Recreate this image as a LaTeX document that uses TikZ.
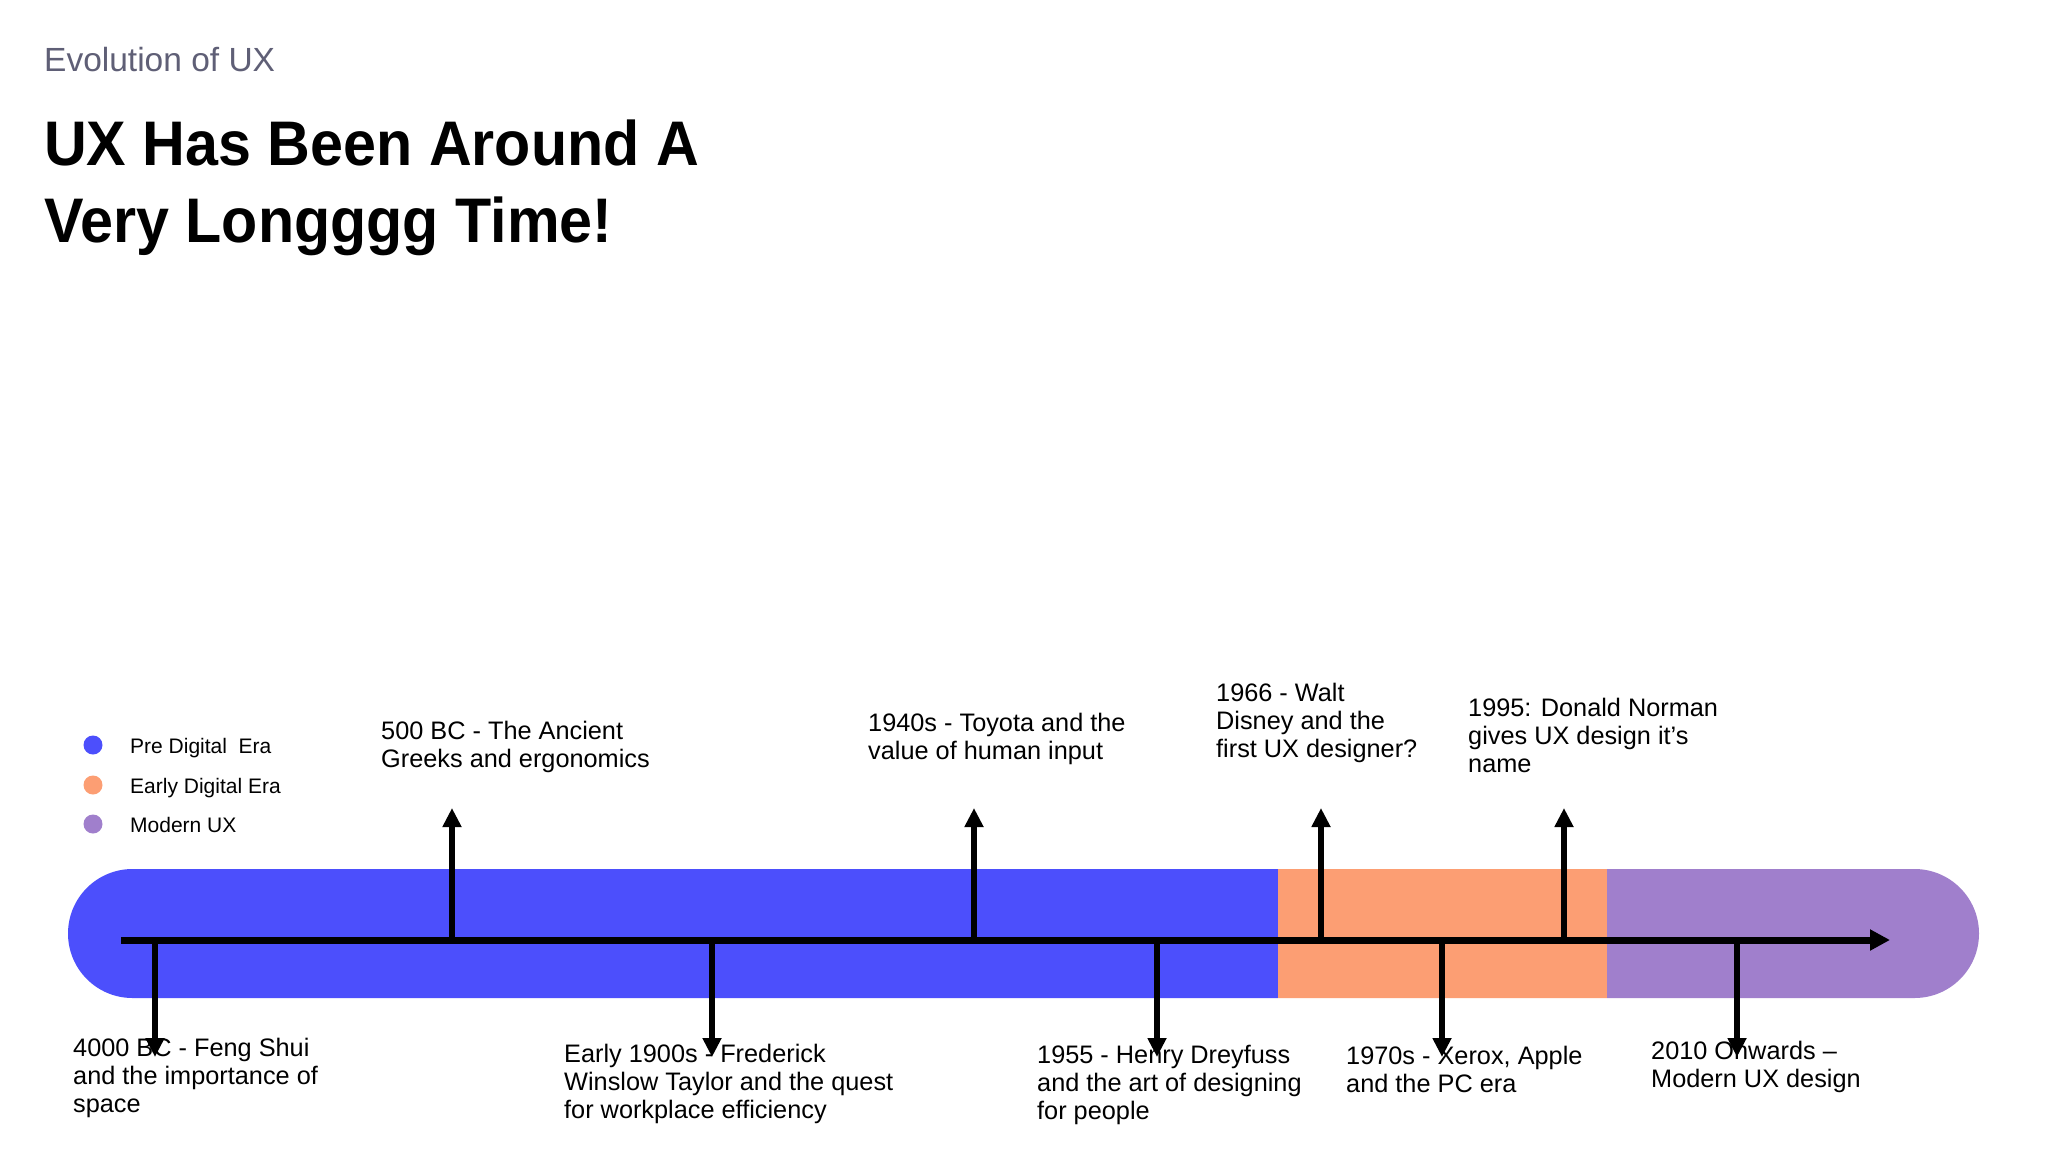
\documentclass[tikz,border=0pt]{standalone}
\usepackage{fontspec}
\setmainfont{Liberation Sans}
\newfontfamily\titlefont[FakeStretch=0.94]{Liberation Sans Bold}
\usetikzlibrary{arrows.meta}
\definecolor{cblue}{RGB}{76,79,252}
\definecolor{corange}{RGB}{252,158,115}
\definecolor{cpurple}{RGB}{160,127,204}
\definecolor{cgraytxt}{RGB}{95,95,118}
\begin{document}
\begin{tikzpicture}[x=1pt,y=-1pt,
  evtext/.style={font=\fontsize{25.3}{27.8}\selectfont, align=left, inner sep=0pt, anchor=base west},
  legtext/.style={font=\fontsize{21}{24}\selectfont, inner sep=0pt, anchor=base west},
  legdot/.style={circle, inner sep=0pt, minimum size=19pt},
  evarrow/.style={line width=6.5pt, -{Triangle[length=19pt,width=18pt]}},
  axisarrow/.style={line width=7pt, -{Triangle[length=20pt,width=20pt]}}]
\fill[white] (0,0) rectangle (2048,1152);
\useasboundingbox (0,0) rectangle (2048,1152);

% headings (multi-line nodes: base anchor = baseline of last line)
\node[anchor=base west, inner sep=0pt, text=cgraytxt, font=\fontsize{33.5}{40}\selectfont] (sub) at (44,71) {Evolution of UX};
\node[anchor=base west, inner sep=0pt, align=left, font=\titlefont\fontsize{63}{77}\selectfont] (title) at (44,242) {UX Has Been Around A\\Very Longggg Time!};

% legend
\node[legdot, fill=cblue] (d1) at (93,745) {};
\node[legdot, fill=corange] (d2) at (93,785) {};
\node[legdot, fill=cpurple] (d3) at (93,824) {};
\node[legtext] (l1) at (130,753) {Pre Digital\ \ Era};
\node[legtext] (l2) at (130,793) {Early Digital Era};
\node[legtext] (l3) at (130,832) {Modern UX};

% bar
\begin{scope}
\clip[rounded corners=64.5pt] (68,869) rectangle (1979,998);
\fill[cblue] (60,860) rectangle (1278,1005);
\fill[corange] (1278,860) rectangle (1607,1005);
\fill[cpurple] (1607,860) rectangle (1990,1005);
\end{scope}

% axis
\coordinate (axL) at (121,940);
\coordinate (axR) at (1890,940);
\draw[axisarrow] (axL) -- (axR);

% up arrows
\foreach \n/\x in {u1/452,u2/974,u3/1321,u4/1564}{
  \coordinate (\n a) at (\x,940);
  \coordinate (\n b) at (\x,808);
  \draw[evarrow] (\n a) -- (\n b);
}
% down arrows
\foreach \n/\x in {d1/155,d2/712,d3/1157,d4/1442,d5/1737}{
  \coordinate (\n a) at (\x,940);
  \coordinate (\n b) at (\x,1057);
  \draw[evarrow] (\n a) -- (\n b);
}

% event texts
\node[evtext] (e500) at (381,767) {500 BC - The Ancient\\Greeks and ergonomics};
\node[evtext] (e1940) at (868,759) {1940s - Toyota and the\\value of human input};
\node[evtext] (e1966) at (1216,757) {1966 - Walt\\Disney and the\\first UX designer?};
\node[evtext] (e1995) at (1468,772) {1995: Donald Norman\\gives UX design it’s\\name};
\node[evtext] (e4000) at (73,1112) {4000 BC - Feng Shui\\and the importance of\\space};
\node[evtext] (e1900) at (564,1118) {Early 1900s - Frederick\\Winslow Taylor and the quest\\for workplace efficiency};
\node[evtext] (e1955) at (1037,1119) {1955 - Henry Dreyfuss\\and the art of designing\\for people};
\node[evtext] (e1970) at (1346,1092) {1970s - Xerox, Apple\\and the PC era};
\node[evtext] (e2010) at (1651,1087) {2010 Onwards –\\Modern UX design};
\end{tikzpicture}
\end{document}
